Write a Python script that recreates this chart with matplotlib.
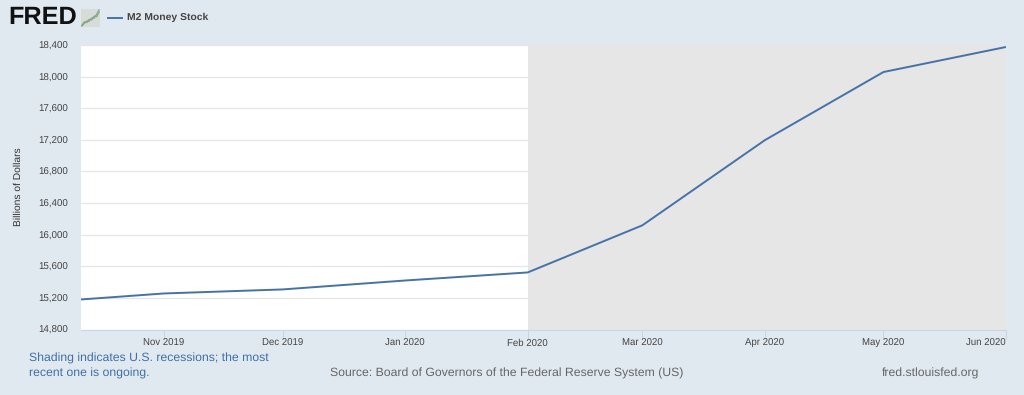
import matplotlib
matplotlib.use("Agg")
import matplotlib.pyplot as plt
from datetime import datetime

# M2 money stock
dates = [datetime(2019, 10, 11), datetime(2019, 11, 1), datetime(2019, 12, 1), datetime(2020, 1, 1),
         datetime(2020, 2, 1), datetime(2020, 3, 1), datetime(2020, 4, 1), datetime(2020, 5, 1),
         datetime(2020, 6, 1)]
m2 = [15180, 15256, 15307, 15420, 15522, 16118, 17196, 18058, 18375]

y_ticks = [14800, 15200, 15600, 16000, 16400, 16800, 17200, 17600, 18000, 18400]
x_ticks = dates[1:]
x_labels = ["Nov 2019", "Dec 2019", "Jan 2020", "Feb 2020", "Mar 2020", "Apr 2020", "May 2020", "Jun 2020"]

# little logo lines
logo_x = [0, 1, 2, 3, 4, 5, 6, 7]
logo_green = [1.0, 2.2, 2.0, 3.2, 3.0, 4.4, 4.2, 6.0]
logo_blue = [0.6, 1.6, 2.6, 2.4, 3.8, 3.6, 5.2, 6.8]

plt.rcParams['font.family'] = ['Liberation Sans', 'DejaVu Sans']
plt.rcParams['text.hinting'] = 'no_hinting'
W, H = 1024, 395
bg = "#e1e9f0"
blue = "#4572a7"
text_col = "#444444"

fig = plt.figure(figsize=(W / 100, H / 100), dpi=100, facecolor=bg)
ax = fig.add_axes([81 / W, 1 - 329.5 / H, 925 / W, 284.5 / H])
ax.set_facecolor("white")

# recession band
ax.axvspan(datetime(2020, 2, 1), dates[-1], color="#e6e6e6", lw=0, zorder=0)
ax.plot(dates, m2, color=blue, lw=1.4, zorder=3, solid_capstyle="butt")

ax.set_xlim(dates[0], dates[-1])
ax.set_ylim(14800, 18400)
ax.set_yticks(y_ticks)
ax.set_yticklabels([f"{v:,}" for v in y_ticks], fontsize=7, color=text_col)
ax.set_xticks(x_ticks)
ax.set_xticklabels(x_labels, fontsize=6.9, color=text_col)
ax.get_xticklabels()[-1].set_ha("right")
ax.grid(axis="y", color="#e6e6e6", lw=0.9, zorder=1)
ax.set_axisbelow(True)
ax.tick_params(axis="y", length=0, pad=9.4)
ax.tick_params(axis="x", length=6.5, width=0.8, color="#c6d8e6", pad=0)
for s in ["top", "left", "right"]:
    ax.spines[s].set_visible(False)
ax.spines["bottom"].set_color("#c6d8e6")
ax.spines["bottom"].set_linewidth(0.8)

fig.text(18 / W, 1 - 187 / H, "Billions of Dollars", fontsize=7.4, color="#333333",
         rotation=90, ha="center", va="center")

# header
fig.text(8 / W, 1 - 18 / H, "FRED", fontsize=18.2, fontweight="bold", color="#111111", va="center", ha="left")
logo = fig.add_axes([81 / W, 1 - 27 / H, 19 / W, 18 / H], facecolor="#d8dcd8")
logo.plot(logo_x, logo_green, color="#8db255", lw=1)
logo.plot(logo_x, logo_blue, color="#7f9cb8", lw=0.8)
logo.set_xticks([])
logo.set_yticks([])
for s in logo.spines.values():
    s.set_visible(False)

fig.add_artist(plt.Line2D([108 / W, 122 / W], [1 - 17.5 / H] * 2, color=blue, lw=1.4))
fig.text(127 / W, 1 - 17.5 / H, "M2 Money Stock", fontsize=7.5, fontweight="bold", color="#444444", va="center")

# footer
fig.text(29 / W, 1 - 358 / H, "Shading indicates U.S. recessions; the most", fontsize=8.85, color="#3f6fa8", va="center")
fig.text(29 / W, 1 - 373 / H, "recent one is ongoing.", fontsize=8.85, color="#3f6fa8", va="center")
fig.text(330 / W, 1 - 373 / H, "Source: Board of Governors of the Federal Reserve System (US)", fontsize=8.8,
         color="#666666", va="center")
fig.text(882 / W, 1 - 373 / H, "fred.stlouisfed.org", fontsize=8.8, color="#666666", va="center")

fig.savefig("out.png", dpi=100, facecolor=bg)
